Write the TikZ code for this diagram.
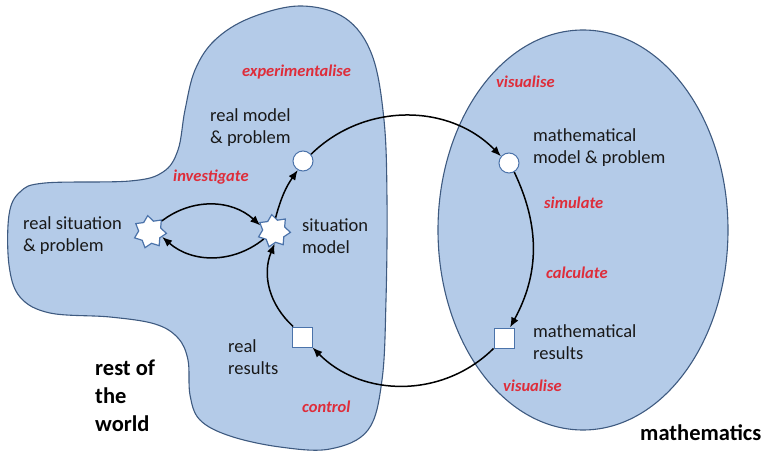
\documentclass[tikz,border=0pt]{standalone}
\usepackage{fontspec}
\setmainfont{Carlito}
\usetikzlibrary{shapes.geometric,arrows.meta}
\definecolor{blobfill}{RGB}{180,203,232}
\definecolor{blobline}{RGB}{62,90,128}
\definecolor{markline}{RGB}{75,115,170}
\definecolor{labred}{RGB}{222,45,58}
\definecolor{txt}{RGB}{25,25,25}
\tikzset{
  region/.style={fill=blobfill,draw=blobline,line width=1.1pt},
  txtnode/.style={anchor=west,inner sep=0pt,align=left,text=txt,font=\fontsize{18.5}{22}\selectfont},
  bignode/.style={anchor=west,inner sep=0pt,align=left,text=black,font=\fontsize{22.5}{28}\selectfont\bfseries},
  labnode/.style={anchor=west,inner sep=0pt,text=labred,font=\fontsize{16.5}{20}\selectfont\bfseries\itshape},
  starmark/.style={star,star points=7,star point ratio=1.45,minimum size=33pt,inner sep=0pt,fill=white,draw=markline,line width=1.2pt,rotate=8},
  circmark/.style={circle,minimum size=20pt,inner sep=0pt,fill=white,draw=markline,line width=1pt},
  sqmark/.style={rectangle,minimum size=20pt,inner sep=0pt,fill=white,draw=markline,line width=1pt},
  flow/.style={-{Latex[length=10pt,width=8pt]},line width=1.5pt,black}
}
\begin{document}
\begin{tikzpicture}[x=1pt,y=1pt]
\useasboundingbox (0,0) rectangle (768,-454);
% left region
\draw[region] plot[smooth cycle,tension=0.6] coordinates {
 (300,-6) (345,-18) (372,-55) (384,-120) (387,-200) (386,-300) (382,-380) (368,-430)
 (330,-449) (280,-447) (230,-436) (200,-420) (190,-395) (188,-360) (178,-338) (155,-324)
 (110,-317) (50,-313) (20,-297) (9,-265) (9,-215) (20,-192) (45,-183) (130,-181)
 (163,-172) (178,-150) (185,-110) (195,-70) (215,-40) (250,-18)};
% right region
\draw[region] (583,-230) ellipse [x radius=145, y radius=200];
% markers
\node[starmark] (s1) at (150,-232) {};
\node[starmark] (s2) at (274,-231) {};
\node[circmark] (c1) at (303,-161) {};
\node[circmark] (c2) at (509,-163) {};
\node[sqmark] (q1) at (302,-337) {};
\node[sqmark] (q2) at (504,-338) {};
% texts
\node[txtnode] (trsit) at (23,-236) {real situation\\\& problem};
\node[txtnode] (tsmod) at (302,-236) {situation\\model};
\node[txtnode] (trmod) at (210,-128) {real model\\\& problem};
\node[txtnode] (trres) at (228,-357) {real\\results};
\node[txtnode] (tmmod) at (533,-148) {mathematical\\model \& problem};
\node[txtnode] (tmres) at (533,-342) {mathematical\\results};
\node[bignode] (trow) at (95,-396) {rest of\\the\\world};
\node[bignode] (tmath) at (640,-433) {mathematics};
% labels
\node[labnode] (lexp) at (242,-72) {experimentalise};
\node[labnode] (linv) at (173,-177) {investigate};
\node[labnode] (lcon) at (302,-407) {control};
\node[labnode] (lvis1) at (496,-82) {visualise};
\node[labnode] (lsim) at (544,-203) {simulate};
\node[labnode] (lcal) at (546,-273) {calculate};
\node[labnode] (lvis2) at (503,-386) {visualise};
% connectors
\draw[flow] (s1.35) to[bend left=40] (s2.150);
\draw[flow] (s2.210) to[bend left=40] (s1.-30);
\draw[flow] (s2.75) to[bend left=10] (c1.240);
\draw[flow] (c1.40) to[bend left=45] (c2.140);
\draw[flow] (c2.-60) to[bend left=27] (q2.60);
\draw[flow] (q2.-135) to[bend left=45] (q1.-45);
\draw[flow] (q1.130) to[bend left=35] (s2.-95);
\end{tikzpicture}
\end{document}
